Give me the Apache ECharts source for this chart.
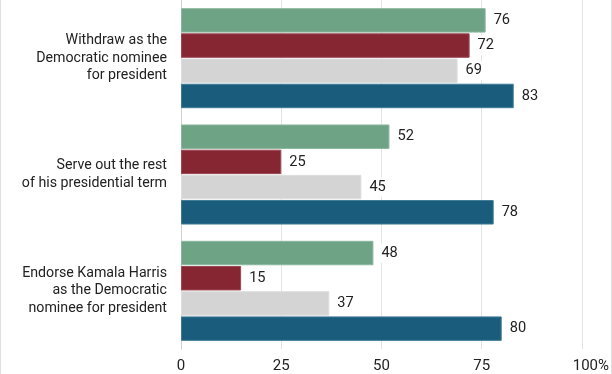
<!DOCTYPE html>
<html>
<head>
<meta charset="utf-8">
<script src="https://cdn.jsdelivr.net/npm/echarts@6/dist/echarts.min.js"></script>
<style>html,body{margin:0;padding:0;background:#fff}#c{width:612px;height:374px}</style>
</head>
<body>
<div id="c"></div>
<script>
const categories = [
  'Withdraw as the\nDemocratic nominee\nfor president',
  'Serve out the rest\nof his presidential term',
  'Endorse Kamala Harris\nas the Democratic\nnominee for president'
];
const seriesNames = ['Series A', 'Series B', 'Series C', 'Series D'];
const seriesA = [76, 52, 48];
const seriesB = [72, 25, 15];
const seriesC = [69, 45, 37];
const seriesD = [83, 78, 80];
const xTicks = [0, 25, 50, 75, 100];

const colors = ['#6fa386', '#862633', '#d4d4d4', '#1a5c7c'];
const borders = ['#8bb79e', '#9a4853', '#dedede', '#3f7a96'];
const allData = [seriesA, seriesB, seriesC, seriesD];

const chart = echarts.init(document.getElementById('c'), null, {renderer: 'canvas'});
chart.setOption({
  animation: false,
  backgroundColor: '#fff',
  textStyle: {fontFamily: 'Roboto'},
  grid: {left: 181, right: 29.5, top: 0, bottom: 25, containLabel: false},
  xAxis: {
    type: 'value', min: xTicks[0], max: xTicks[xTicks.length - 1], interval: 25,
    axisLine: {show: false}, axisTick: {show: false},
    splitLine: {show: true, lineStyle: {color: '#e3e3e3', width: 1}},
    axisLabel: {
      margin: 10, fontSize: 15, color: '#222', fontFamily: 'Roboto',
      formatter: v => v === 100 ? '{r|100%}' : String(v),
      rich: {r: {fontSize: 15, color: '#222', fontFamily: 'Roboto', padding: [0, 0, 0, 18]}}
    }
  },
  yAxis: {
    type: 'category', data: categories, inverse: true,
    axisLine: {show: true, lineStyle: {color: '#d0d0d0', width: 1}},
    axisTick: {show: false},
    axisLabel: {margin: 14, fontSize: 14.2, color: '#222', lineHeight: 17.5, align: 'right', fontFamily: 'Roboto'}
  },
  series: allData.map((d, i) => ({
    name: seriesNames[i], type: 'bar', data: d,
    barGap: '3%', barCategoryGap: '14%',
    itemStyle: {color: colors[i], borderColor: borders[i], borderWidth: 1},
    label: {
      show: true, position: 'right', distance: 5,
      fontSize: 14.6, color: '#222', fontFamily: 'Roboto',
      backgroundColor: '#fff', padding: [2, 3]
    }
  })),
  graphic: [
    {type: 'line', shape: {x1: 0.5, y1: 0, x2: 0.5, y2: 374}, style: {stroke: '#e0e0e0', lineWidth: 1}},
    {type: 'line', shape: {x1: 611.5, y1: 0, x2: 611.5, y2: 374}, style: {stroke: '#e0e0e0', lineWidth: 1}}
  ]
});
</script>
</body>
</html>
